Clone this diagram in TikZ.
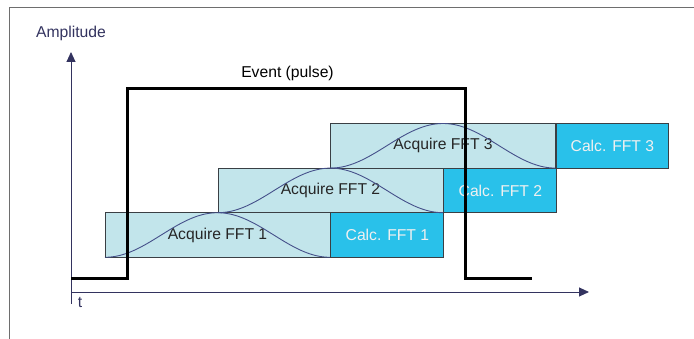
\documentclass[tikz,border=0pt]{standalone}
\usepackage{fontspec}
\setmainfont{Liberation Sans}
\usetikzlibrary{arrows.meta}
\definecolor{navy}{HTML}{33335F}
\definecolor{acqfill}{HTML}{C2E5EB}
\definecolor{calcfill}{HTML}{29C1EA}
\definecolor{boxline}{HTML}{3A3F44}
\definecolor{bellcol}{HTML}{45508A}
\definecolor{framecol}{HTML}{6E6E6E}
\tikzset{
  lbl/.style={font=\fontsize{15.7}{18}\selectfont, inner sep=0pt},
  acq/.style={lbl, draw=boxline, fill=acqfill, text=black!85, line width=0.9pt,
    minimum width=225pt, minimum height=44.6pt, anchor=center},
  calcbox/.style={lbl, draw=boxline, fill=calcfill, text=white!94!black, line width=0.9pt,
    minimum width=113pt, minimum height=44.6pt, anchor=west},
  bell/.style={draw=bellcol, line width=0.9pt},
  axis/.style={draw=navy, line width=0.9pt, -{Triangle[length=10pt,width=9pt]}},
  pulse/.style={draw=black, line width=3pt, line join=miter},
  frame/.style={draw=framecol, line width=1pt}
}
\begin{document}
\begin{tikzpicture}[x=1pt,y=-1pt]
\useasboundingbox (0,0) rectangle (694,339);
% frame
\coordinate (fb) at (9,339);
\coordinate (fc) at (9,8);
\coordinate (fr) at (694,8);
\draw[frame] (fb) -- (fc) -- (fr);
% boxes
\node[acq] (a1) at (217.5,235) {Acquire FFT 1};
\node[calcbox] (c1) at (a1.east) {Calc. FFT 1};
\node[acq] (a2) at (330.5,190.4) {Acquire FFT 2};
\node[calcbox] (c2) at (a2.east) {Calc. FFT 2};
\node[acq] (a3) at (443,145.8) {Acquire FFT 3};
\node[calcbox, minimum width=112pt] (c3) at (a3.east) {Calc. FFT 3};
% bells
\foreach \xo/\yb in {105/257.3, 218/212.7, 330.5/168.1}{
  \draw[bell] plot[domain=0:1, samples=80] ({\xo+225*\x},{\yb-44.6*(1-cos(360*\x))/2});
}
% axes
\coordinate (yb) at (71,304);
\coordinate (yt) at (71,52);
\coordinate (xl) at (71,292);
\coordinate (xr) at (589,292);
\draw[axis] (yb) -- (yt);
\draw[axis] (xl) -- (xr);
\node[lbl, text=navy] (amp) at (71,33) {Amplitude};
\node[lbl, text=navy] (t) at (80,302) {t};
% pulse
\coordinate (p0) at (71,279);
\coordinate (p1) at (127,279);
\coordinate (p2) at (127,89);
\coordinate (p3) at (465,89);
\coordinate (p4) at (465,279);
\coordinate (p5) at (532,279);
\draw[pulse] (p0) -- (p1) -- (p2) -- (p3) -- (p4) -- (p5);
\node[lbl] (ev) at (287.5,73) {Event (pulse)};
\end{tikzpicture}
\end{document}
